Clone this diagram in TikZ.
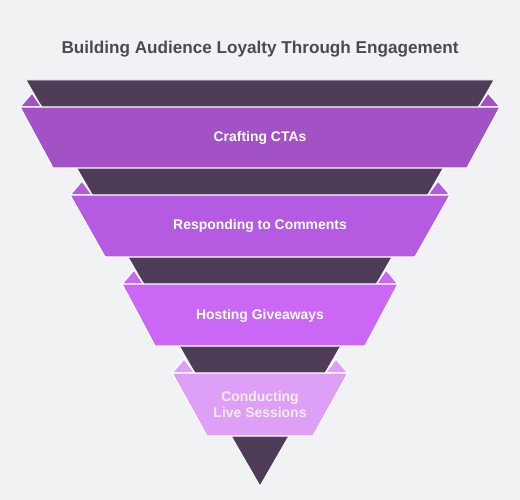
\documentclass[tikz,border=0pt]{standalone}
\usepackage{fontspec}
\setmainfont{Liberation Sans}
\definecolor{backgr}{HTML}{F1F2F4}
\definecolor{funnel}{HTML}{4F3C58}
\definecolor{titlegrey}{HTML}{4A4B50}
\definecolor{ctas}{HTML}{A352C6}
\definecolor{comments}{HTML}{B55BE2}
\definecolor{giveaways}{HTML}{CA67F5}
\definecolor{sessions}{HTML}{DEA0F6}
\usetikzlibrary{calc}
\tikzstyle{layer} = [
    draw = white,
    line width = 1.2bp,
    line join = round
]
\tikzstyle{stagetext} = [
    text = white,
    font = \bfseries\fontsize{14}{17}\selectfont,
    align = center
]
\begin{document}
\begin{tikzpicture}[x=1bp, y=-1bp]

        \useasboundingbox[fill=backgr] (0,0) rectangle (520,500);

        %% Title
        \node (title) [text=titlegrey, font=\bfseries\fontsize{17.2}{21}\selectfont] at (260,49) {Building Audience Loyalty Through Engagement};

        %% Funnel
        \filldraw[layer, fill=funnel, line width=0.8bp] (26,80) -- (494,80) -- (260,486) -- cycle;

        %% Ears
        \filldraw[layer, fill=ctas] (20,107) -- (32,93) -- (41.6,107) -- cycle;
        \filldraw[layer, fill=ctas] (500,107) -- (488,93) -- (478.4,107) -- cycle;
        \filldraw[layer, fill=comments] (70,195) -- (82,181) -- (92.2,195) -- cycle;
        \filldraw[layer, fill=comments] (450,195) -- (438,181) -- (427.8,195) -- cycle;
        \filldraw[layer, fill=giveaways] (122,284) -- (134,270) -- (143.5,284) -- cycle;
        \filldraw[layer, fill=giveaways] (398,284) -- (386,270) -- (376.5,284) -- cycle;
        \filldraw[layer, fill=sessions] (172,373) -- (184,359) -- (194.8,373) -- cycle;
        \filldraw[layer, fill=sessions] (348,373) -- (336,359) -- (325.2,373) -- cycle;

        %% Bands
        \filldraw[layer, fill=ctas] (20,107) -- (500,107) -- (467,168) -- (53,168) -- cycle;
        \filldraw[layer, fill=comments] (70,195) -- (450,195) -- (415,257) -- (105,257) -- cycle;
        \filldraw[layer, fill=giveaways] (122,284) -- (398,284) -- (365,346) -- (155,346) -- cycle;
        \filldraw[layer, fill=sessions] (172,373) -- (348,373) -- (313,436) -- (207,436) -- cycle;

        %% Labels
        \node (ctastext) [stagetext] at (260,137.5) {Crafting CTAs};
        \node (commentstext) [stagetext] at (260,226) {Responding to Comments};
        \node (giveawaystext) [stagetext] at (260,315.5) {Hosting Giveaways};
        \node (sessionstext) [stagetext, text=white!80!sessions] at (260,404.5) {Conducting\\Live Sessions};

    \end{tikzpicture}
\end{document}
